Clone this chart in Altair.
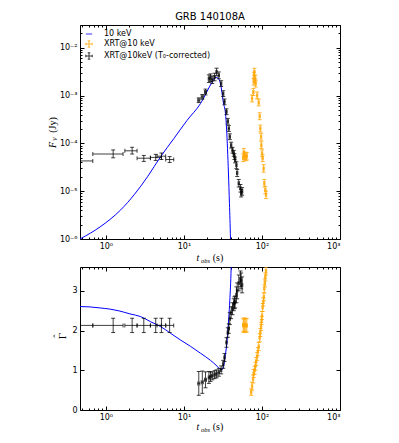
import altair as alt
import pandas as pd

TITLE = "GRB 140108A"
SERIES = ["10 keV", "XRT@10 keV", "XRT@10keV (T₀-corrected)"]
COLORS = ["#0000ff", "#ffa500", "#000000"]

# ---------------- model curves (10 keV) ----------------
model_t = [0.466, 0.863, 1.55, 2.30, 3.41, 5.04, 7.45, 11.0, 16.3, 23.1, 25.4, 27.5,
           29.4, 32.1, 34.1, 35.2, 37.2, 38.3, 39.5, 40.5]
model_F = [1e-6, 1.84e-6, 4.07e-6, 8.4e-6, 2.0e-5, 5.3e-5, 1.27e-4, 3.05e-4, 6.8e-4,
           1.93e-3, 2.4e-3, 2.3e-3, 1.78e-3, 7.0e-4, 4.2e-4, 2.0e-4, 2.4e-5, 5.6e-6,
           1e-6, 1e-7]
model_gt = [0.466, 0.625, 0.838, 1.125, 1.51, 2.03, 2.80, 3.76, 5.04, 6.76, 9.07, 12.2,
            16.3, 21.9, 26.7, 28.6, 31.0, 32.6, 34.1, 35.8, 37.6, 38.7, 40.3, 41.2]
model_gamma = [2.605, 2.595, 2.57, 2.54, 2.49, 2.42, 2.35, 2.22, 2.10, 1.93, 1.76, 1.60,
               1.43, 1.25, 1.10, 1.04, 1.02, 1.15, 1.41, 1.75, 2.33, 2.75, 3.6, 4.5]

# ---------------- early T0-corrected points ----------------
early_t = [0.42, 1.24, 2.17, 3.06, 4.35, 5.15, 6.56]
early_tlo = [0.20, 0.68, 1.75, 2.51, 3.72, 4.52, 5.84]
early_thi = [0.68, 1.66, 2.51, 3.72, 5.15, 5.84, 7.40]
early_F = [4.3e-5, 6.0e-5, 7.0e-5, 4.9e-5, 5.1e-5, 5.4e-5, 4.6e-5]
early_Flo = [3.6e-5, 5.0e-5, 6.0e-5, 4.2e-5, 4.4e-5, 4.6e-5, 4.0e-5]
early_Fhi = [5.1e-5, 7.3e-5, 8.3e-5, 5.6e-5, 5.9e-5, 6.3e-5, 5.3e-5]
early_gamma = [2.13, 2.13, 2.13, 2.13, 2.13, 2.13, 2.13]
early_gamma_err = [0.18, 0.18, 0.18, 0.18, 0.18, 0.18, 0.18]

# ---------------- T0-corrected XRT points ----------------
black_t = [15.5, 17.2, 18.9, 20.9, 21.9, 23.1, 24.7, 26.2, 28.0, 30.0, 31.9, 33.1, 35.1,
           36.5, 37.6, 38.7, 40.3, 41.9, 43.5, 44.4, 45.3, 47.1, 48.1, 50.4, 53.0, 54.1, 55.7]
black_F = [8.0e-4, 9.4e-4, 1.19e-3, 2.26e-3, 2.37e-3, 2.15e-3, 2.45e-3, 3.12e-3, 2.65e-3,
           1.78e-3, 1.10e-3, 7.4e-4, 4.6e-4, 2.9e-4, 2.05e-4, 1.38e-4, 9.2e-5, 7.2e-5,
           6.2e-5, 5.3e-5, 4.5e-5, 3.5e-5, 2.4e-5, 1.47e-5, 1.15e-5, 9.1e-6, 9.9e-6]
black_F_err = [0.12, 0.12, 0.15, 0.2, 0.2, 0.2, 0.2, 0.2, 0.18, 0.15, 0.15, 0.15, 0.15,
               0.15, 0.15, 0.15, 0.15, 0.15, 0.15, 0.15, 0.15, 0.18, 0.18, 0.2, 0.2, 0.2, 0.2]
black_t_err = [0.03, 0.03, 0.03, 0.02, 0.02, 0.02, 0.02, 0.02, 0.02, 0.02, 0.02, 0.02, 0.02,
               0.02, 0.02, 0.02, 0.02, 0.02, 0.02, 0.02, 0.02, 0.02, 0.02, 0.02, 0.02, 0.02, 0.02]
black_gamma = [0.67, 0.70, 0.76, 0.82, 0.84, 0.86, 0.89, 0.91, 0.95, 1.01, 1.15, 1.32, 1.70,
               1.95, 2.05, 2.30, 2.45, 2.55, 2.65, 2.70, 2.72, 2.90, 3.00, 3.20, 3.30, 3.25, 3.15]
black_gamma_err = [0.30, 0.28, 0.2, 0.15, 0.12, 0.1, 0.1, 0.1, 0.1, 0.1, 0.1, 0.1, 0.12,
                   0.12, 0.12, 0.15, 0.15, 0.15, 0.15, 0.15, 0.15, 0.2, 0.2, 0.2, 0.2, 0.2, 0.2]

# ---------------- XRT points (not corrected) ----------------
orange_t = [57.5, 58.5, 60.0, 62.0, 64.0, 74.7, 77.6, 78.3, 79.0, 80.0, 82.4, 83.0, 86.6,
            90.8, 93.5, 95.4, 97.4, 98.2, 100.3, 102.0, 105.0, 107.3, 110.5, 112.8]
orange_F = [5.0e-5, 6.5e-5, 5.5e-5, 5.2e-5, 5.4e-5, 8.7e-4, 1.19e-3, 1.96e-3, 2.61e-3,
            3.16e-3, 2.26e-3, 1.78e-3, 1.01e-3, 7.2e-4, 3.7e-4, 2.05e-4, 1.38e-4, 9.2e-5,
            6.2e-5, 4.9e-5, 3.0e-5, 1.47e-5, 1.06e-5, 8.4e-6]
orange_F_err = [0.2, 0.2, 0.2, 0.2, 0.2, 0.18, 0.18, 0.18, 0.18, 0.18, 0.18, 0.18, 0.18,
                0.18, 0.18, 0.18, 0.18, 0.18, 0.18, 0.18, 0.2, 0.2, 0.2, 0.2]
orange_gt = [57.5, 58.5, 60.0, 62.0, 64.0, 72.8, 74.7, 77.0, 78.3, 80.5, 82.4, 84.3, 86.6,
             88.6, 90.8, 93.5, 95.4, 97.4, 98.8, 100.3, 102.0, 104.2, 105.7, 107.3, 108.9,
             110.5, 112.8]
orange_gamma = [2.14, 2.12, 2.15, 2.13, 2.13, 0.45, 0.60, 0.78, 0.92, 1.00, 1.10, 1.22, 1.35,
                1.47, 1.60, 1.82, 1.95, 2.10, 2.25, 2.38, 2.58, 2.72, 2.85, 3.05, 3.20, 3.35, 3.50]
orange_gamma_err = [0.17, 0.17, 0.17, 0.17, 0.17, 0.08, 0.1, 0.1, 0.1, 0.1, 0.1, 0.1, 0.1,
                    0.1, 0.1, 0.1, 0.1, 0.1, 0.1, 0.1, 0.1, 0.1, 0.1, 0.1, 0.1, 0.1, 0.1]
orange_t_err = 0.02

# ---------------- axes ----------------
X_DOMAIN = [0.466, 1000]
F_DOMAIN = [1e-6, 3e-2]
G_DOMAIN = [0, 3.6]
x_major = [1, 10, 100, 1000]
x_minor = [0.5, 0.6, 0.7, 0.8, 0.9, 2, 3, 4, 5, 6, 7, 8, 9, 20, 30, 40, 50, 60, 70, 80, 90,
           200, 300, 400, 500, 600, 700, 800, 900]
F_major = [1e-6, 1e-5, 1e-4, 1e-3, 1e-2]
F_minor = [m * d for d in [1e-6, 1e-5, 1e-4, 1e-3] for m in range(2, 10)] + [2e-2, 3e-2]
G_major = [0, 1, 2, 3]

W, H1, H2 = 260, 214, 143
FONT = "DejaVu Sans"
MATH = "Liberation Serif"

xs = alt.Scale(type="log", domain=X_DOMAIN, nice=False)
fs = alt.Scale(type="log", domain=F_DOMAIN, nice=False)
gs = alt.Scale(type="linear", domain=G_DOMAIN, nice=False, zero=False)

XLAB = ("datum.value < 5 ? '10⁰' : datum.value < 50 ? '10¹' : "
        "datum.value < 500 ? '10²' : '10³'")
FLAB = ("datum.value < 5e-6 ? '10⁻⁶' : datum.value < 5e-5 ? '10⁻⁵' : "
        "datum.value < 5e-4 ? '10⁻⁴' : datum.value < 5e-3 ? '10⁻³' : '10⁻²'")

LEG = alt.Legend(title=None, orient="top-left", offset=5, padding=0, labelFontSize=8,
                 labelFont=FONT, symbolSize=40, symbolStrokeWidth=1, rowPadding=0,
                 labelOffset=11, labelColor="black", labelLimit=300)
color_enc = alt.Color("series:N", scale=alt.Scale(domain=SERIES, range=COLORS), legend=LEG)
CROSS = ("M-1,0L1,0M0,-1L0,1M-0.4,-1L0.4,-1M-0.4,1L0.4,1M-1,-0.4L-1,0.4M1,-0.4L1,0.4")
shape_enc = alt.Shape("series:N", scale=alt.Scale(domain=SERIES, range=["stroke", CROSS, CROSS]),
                      legend=LEG)


def axis_layers(df, xf, yf, ys, y_major, y_minor, ylabexpr):
    def ax(orient, vals, size, labels, lexpr=None):
        kw = dict(values=vals, tickSize=size, offset=-size, domain=False, grid=False,
                  title=None, orient=orient, labels=labels, tickColor="black",
                  labelColor="black", labelFont=FONT, labelFontSize=8, labelPadding=3)
        if lexpr:
            kw["labelExpr"] = lexpr
        return alt.Axis(**kw)
    layers = []
    combos = [("bottom", "left", x_major, y_major, 4, True),
              ("bottom", "left", x_minor, y_minor, 2, False),
              ("top", "right", x_major, y_major, 4, False),
              ("top", "right", x_minor, y_minor, 2, False)]
    for xo, yo, xv, yv, sz, lab in combos:
        ysz = sz
        if not yv:
            yv = [y_major[0]]
            ysz = 0
        layers.append(
            alt.Chart(df).mark_point(opacity=0, size=0).encode(
                x=alt.X(xf + ":Q", scale=xs,
                        axis=ax(xo, xv, sz, lab, XLAB if lab else None)),
                y=alt.Y(yf + ":Q", scale=ys,
                        axis=ax(yo, yv, ysz, lab, ylabexpr if lab else None)),
            )
        )
    return layers


def errbar_layers(df, ys, cenc, opacity):
    b = alt.Chart(df)
    X = lambda f: alt.X(f + ":Q", scale=xs, axis=None)
    Y = lambda f: alt.Y(f + ":Q", scale=ys, axis=None)
    rk = dict(strokeWidth=1, opacity=opacity, clip=True)
    tk = dict(size=4, thickness=1, opacity=opacity, clip=True)
    return [
        b.mark_rule(**rk).encode(x=X("t"), y=Y("ylo"), y2="yhi", color=cenc),
        b.mark_rule(**rk).encode(x=X("tlo"), x2="thi", y=Y("y"), color=cenc),
        b.mark_tick(orient="horizontal", **tk).encode(x=X("t"), y=Y("ylo"), color=cenc),
        b.mark_tick(orient="horizontal", **tk).encode(x=X("t"), y=Y("yhi"), color=cenc),
        b.mark_tick(orient="vertical", **tk).encode(x=X("tlo"), y=Y("y"), color=cenc),
        b.mark_tick(orient="vertical", **tk).encode(x=X("thi"), y=Y("y"), color=cenc),
    ]


def text_layer(txt, x, y, size, italic=False, angle=0, font=MATH):
    return alt.Chart(pd.DataFrame({"a": [0]})).mark_text(
        text=txt, font=font, fontSize=size, fontStyle="italic" if italic else "normal",
        angle=angle, align="center", baseline="middle", color="black"
    ).encode(x=alt.value(x), y=alt.value(y))


def xtitle(h, dy):
    return [text_layer("t", W / 2 - 12, h + dy, 10, True),
            text_layer("obs", W / 2 - 4.5, h + dy + 2.5, 6.5, True),
            text_layer("(s)", W / 2 + 8, h + dy, 10)]


# ---------------- top panel data ----------------
top_line = pd.DataFrame({"t": model_t, "F": model_F, "series": SERIES[0]})
top_black = pd.DataFrame({
    "t": early_t + black_t,
    "tlo": early_tlo + [t * (1 - e) for t, e in zip(black_t, black_t_err)],
    "thi": early_thi + [t * (1 + e) for t, e in zip(black_t, black_t_err)],
    "y": early_F + black_F,
    "ylo": early_Flo + [f / (1 + e) for f, e in zip(black_F, black_F_err)],
    "yhi": early_Fhi + [f * (1 + e) for f, e in zip(black_F, black_F_err)],
    "series": SERIES[2],
})
top_orange = pd.DataFrame({
    "t": orange_t,
    "tlo": [t * (1 - orange_t_err) for t in orange_t],
    "thi": [t * (1 + orange_t_err) for t in orange_t],
    "y": orange_F,
    "ylo": [f / (1 + e) for f, e in zip(orange_F, orange_F_err)],
    "yhi": [f * (1 + e) for f, e in zip(orange_F, orange_F_err)],
    "series": SERIES[1],
})
legend_df = pd.DataFrame({"t": [1, 1, 1], "y": [1e-4, 1e-4, 1e-4], "series": SERIES})

top_layers = (
    axis_layers(top_line, "t", "F", fs, F_major, F_minor, FLAB)
    + [alt.Chart(top_line).mark_line(strokeWidth=1, clip=True, interpolate="monotone").encode(
        x=alt.X("t:Q", scale=xs, axis=None), y=alt.Y("F:Q", scale=fs, axis=None),
        color=color_enc, order="t:Q")]
    + errbar_layers(top_orange, fs, color_enc, 0.8)
    + errbar_layers(top_black, fs, color_enc, 0.75)
    + [alt.Chart(legend_df).mark_point(opacity=0, size=0, strokeWidth=1, filled=False).encode(
        x=alt.X("t:Q", scale=xs, axis=None), y=alt.Y("y:Q", scale=fs, axis=None),
        color=color_enc, shape=shape_enc)]
    + xtitle(H1, 19)
    + [text_layer("F", -27.5, 120, 10, True, 270),
       text_layer("ν", -25, 114, 7.5, True, 270),
       text_layer("(Jy)", -27.5, 100, 10, False, 270)]
)
top = alt.layer(*top_layers).resolve_axis(x="independent", y="independent").properties(
    width=W, height=H1,
    title=alt.TitleParams(TITLE, font=FONT, fontSize=10, fontWeight="normal",
                          anchor="middle", offset=3, color="black"))

# ---------------- bottom panel data ----------------
bot_line = pd.DataFrame({"t": model_gt, "G": model_gamma})
bot_black = pd.DataFrame({
    "t": early_t + black_t,
    "tlo": early_tlo + [t * (1 - e) for t, e in zip(black_t, black_t_err)],
    "thi": early_thi + [t * (1 + e) for t, e in zip(black_t, black_t_err)],
    "y": early_gamma + black_gamma,
    "ylo": [g - e for g, e in zip(early_gamma + black_gamma, early_gamma_err + black_gamma_err)],
    "yhi": [g + e for g, e in zip(early_gamma + black_gamma, early_gamma_err + black_gamma_err)],
})
bot_orange = pd.DataFrame({
    "t": orange_gt,
    "tlo": [t * (1 - orange_t_err) for t in orange_gt],
    "thi": [t * (1 + orange_t_err) for t in orange_gt],
    "y": orange_gamma,
    "ylo": [g - e for g, e in zip(orange_gamma, orange_gamma_err)],
    "yhi": [g + e for g, e in zip(orange_gamma, orange_gamma_err)],
})

bot_layers = (
    axis_layers(bot_line, "t", "G", gs, G_major, [], None)
    + [alt.Chart(bot_line).mark_line(strokeWidth=1, clip=True, color=COLORS[0],
                                     interpolate="monotone").encode(
        x=alt.X("t:Q", scale=xs, axis=None), y=alt.Y("G:Q", scale=gs, axis=None), order="t:Q")]
    + errbar_layers(bot_orange, gs, alt.value(COLORS[1]), 0.8)
    + errbar_layers(bot_black, gs, alt.value(COLORS[2]), 0.75)
    + xtitle(H2, 17)
    + [text_layer("Γ", -17, 69, 11, False, 270),
       text_layer("ˆ", -22.5, 69, 10, False, 270)]
)
bottom = alt.layer(*bot_layers).resolve_axis(x="independent", y="independent").properties(
    width=W, height=H2)

chart = alt.vconcat(top, bottom, spacing=28, bounds="flush").resolve_scale(
    color="independent", shape="independent"
).configure_view(stroke="black", strokeWidth=1).properties(
    padding={"left": 39, "top": 3, "right": 5, "bottom": 5})

chart.save("out.html", embed_options={"renderer": "svg", "actions": False})
